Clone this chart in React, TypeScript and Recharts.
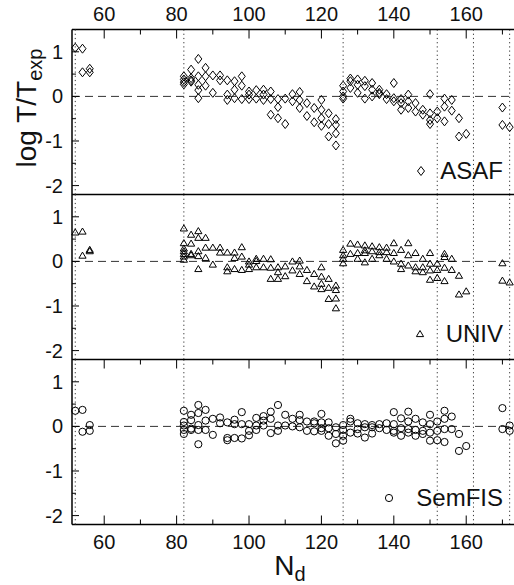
import React from "react";
import { ScatterChart, Scatter, XAxis, YAxis, ReferenceLine } from "recharts";

const FONT = "'Liberation Sans', Arial, sans-serif";

const X_DOMAIN: [number, number] = [51.1, 173.2];
const Y_DOMAIN: [number, number] = [-2.2, 1.5];
const X_TICKS = [60, 70, 80, 90, 100, 110, 120, 130, 140, 150, 160, 170];
const Y_TICKS = [-2, -1.5, -1, -0.5, 0, 0.5, 1];
// dotted verticals (shell closures)
const SHELL_LINES = [52, 82, 126, 152, 162, 172];

// [N_d, values of log T/Texp at that N]
type Group = [number, number[]];

const asaf: Group[] = [
  [52, [1.09]],
  [54, [1.07, 0.54]],
  [56, [0.62, 0.54]],
  [82, [0.45, 0.38, 0.32, 0.27]],
  [84, [0.6, 0.41, 0.36, 0.33]],
  [86, [0.84, 0.45, 0.26, 0.14, -0.04]],
  [88, [0.64, 0.45, 0.24]],
  [90, [0.47, 0.08]],
  [92, [0.47, 0.36]],
  [94, [0.36, 0.04, -0.08]],
  [96, [0.34, 0.15, -0.04]],
  [98, [0.45, 0.24, -0.06]],
  [100, [0.11, 0.04, -0.06]],
  [102, [0.14, -0.05]],
  [104, [0.15, 0.04, -0.08]],
  [106, [0.11, -0.06, -0.41]],
  [108, [-0.06, -0.24, -0.49]],
  [110, [-0.05, -0.62]],
  [112, [0.05, -0.11]],
  [114, [0.1, -0.08, -0.26]],
  [116, [-0.15, -0.44]],
  [118, [-0.26, -0.58]],
  [120, [-0.08, -0.3, -0.49, -0.66]],
  [122, [-0.38, -0.62, -0.9]],
  [124, [-0.51, -0.64, -0.83, -1.1]],
  [126, [0.24, 0.11, 0, -0.05]],
  [128, [0.4, 0.34, 0.19]],
  [130, [0.38, 0.26, 0.08]],
  [132, [0.35, 0.23, -0.05]],
  [134, [0.3, 0.15, 0]],
  [136, [0.15, 0.08, 0.05]],
  [138, [0.05, -0.06]],
  [140, [0.3, -0.04, -0.11]],
  [142, [-0.06, -0.15, -0.3]],
  [144, [0.04, -0.11, -0.26]],
  [146, [-0.15, -0.34]],
  [148, [-0.3, -0.41]],
  [150, [0.05, -0.38, -0.53, -0.62]],
  [152, [-0.34, -0.49]],
  [154, [-0.05, -0.23, -0.56]],
  [156, [-0.08, -0.32]],
  [158, [-0.49, -0.9]],
  [160, [-0.84]],
  [170, [-0.25, -0.64]],
  [172, [-0.69]],
];

const univ: Group[] = [
  [52, [0.65]],
  [54, [0.67, 0.13]],
  [56, [0.26, 0.23]],
  [82, [0.74, 0.41, 0.29, 0.23, 0.17, 0.11, 0.04]],
  [84, [0.6, 0.4, 0.17, 0.14]],
  [86, [0.68, 0.53, 0.23, 0.12, -0.17]],
  [88, [0.53, 0.31, 0.08]],
  [90, [0.31, -0.07]],
  [92, [0.31, 0.2]],
  [94, [0.2, -0.13, -0.22]],
  [96, [0.2, 0.08, -0.17]],
  [98, [0.32, 0.11, -0.19]],
  [100, [0, -0.07, -0.17]],
  [102, [0.06, 0.01, -0.13]],
  [104, [0.06, -0.13]],
  [106, [0.05, -0.14, -0.39]],
  [108, [-0.13, -0.24, -0.39]],
  [110, [-0.11, -0.33]],
  [112, [0, -0.2]],
  [114, [0.02, -0.11, -0.28]],
  [116, [-0.19, -0.44]],
  [118, [-0.28, -0.56]],
  [120, [-0.13, -0.34, -0.5, -0.62]],
  [122, [-0.39, -0.59, -0.84]],
  [124, [-0.54, -0.64, -0.83, -1.05]],
  [126, [0.26, 0.14, 0.06, -0.04]],
  [128, [0.4, 0.17]],
  [130, [0.38, 0.19, 0.06]],
  [132, [0.36, 0.25, 0.19, -0.02]],
  [134, [0.34, 0.23, 0.06]],
  [136, [0.32, 0.21, 0.14]],
  [138, [0.31, 0.21, 0.06]],
  [140, [0.41, 0.19, 0]],
  [142, [0.26, -0.05, -0.17]],
  [144, [0.41, 0.14, -0.09]],
  [146, [0.19, -0.13, -0.22]],
  [148, [0.06, -0.13, -0.24]],
  [150, [0.19, -0.05, -0.2, -0.41]],
  [152, [-0.05, -0.19, -0.37]],
  [154, [0.17, 0.1, -0.14, -0.44]],
  [156, [0.06, -0.19]],
  [158, [-0.32, -0.74]],
  [160, [-0.67]],
  [170, [-0.04, -0.43]],
  [172, [-0.47]],
];

const semfis: Group[] = [
  [52, [0.35]],
  [54, [0.37, -0.12]],
  [56, [0.03, -0.1]],
  [82, [0.35, 0.1, 0.02, -0.08, -0.17]],
  [84, [0.26, 0.14, -0.05, -0.08]],
  [86, [0.48, 0.3, 0.03, -0.08, -0.4]],
  [88, [0.37, 0.13, -0.08]],
  [90, [0.17, -0.19]],
  [92, [0.2, 0.07]],
  [94, [0.09, -0.26, -0.31]],
  [96, [0.15, 0.05, -0.26]],
  [98, [0.32, 0.05, -0.27]],
  [100, [0.05, -0.1, -0.2]],
  [102, [0.19, 0.02, -0.08]],
  [104, [0.23, 0.13, 0.02]],
  [106, [0.33, 0.17, -0.15]],
  [108, [0.48, 0.02, -0.1]],
  [110, [0.26, 0.02]],
  [112, [0.17, 0]],
  [114, [0.26, 0.14, -0.02]],
  [116, [0.11, -0.1]],
  [118, [0.11, 0.07, -0.11]],
  [120, [0.28, 0.09, -0.04, -0.1]],
  [122, [0.09, -0.04, -0.21]],
  [124, [-0.02, -0.17, -0.38]],
  [126, [0.03, -0.08, -0.21, -0.32]],
  [128, [0.17, 0.11, -0.14]],
  [130, [0.07, -0.06, -0.16]],
  [132, [0.05, -0.02, -0.25]],
  [134, [0.03, -0.02, -0.16]],
  [136, [0.05, -0.04]],
  [138, [0.07, -0.08]],
  [140, [0.32, 0.05, -0.1, -0.14]],
  [142, [0.18, -0.04, -0.21]],
  [144, [0.33, 0.11, -0.06, -0.14]],
  [146, [0.17, -0.08, -0.21]],
  [148, [0.09, -0.1, -0.17]],
  [150, [0.26, 0.05, -0.14, -0.32]],
  [152, [0.11, -0.1, -0.31]],
  [154, [0.35, 0.17, -0.06, -0.35]],
  [156, [0.22, -0.06]],
  [158, [-0.17, -0.55]],
  [160, [-0.44]],
  [170, [0.41, -0.06]],
  [172, [0.02, -0.1]],
];

const flatten = (groups: Group[]) =>
  groups.flatMap(([n, vals]) => vals.map((v) => ({ n, v })));

const AXIS_X = 72;
const PANEL_TOPS = [29.5, 194.5, 359.5];
const PANEL_H = 165;
const PX_X = (514 - AXIS_X) / (X_DOMAIN[1] - X_DOMAIN[0]);
const PX_Y = PANEL_H / (Y_DOMAIN[1] - Y_DOMAIN[0]);
const px = (n: number) => AXIS_X + (n - X_DOMAIN[0]) * PX_X;
const py = (top: number, v: number) => top + (Y_DOMAIN[1] - v) * PX_Y;

const Diamond = ({ cx, cy }: any) => (
  <polygon
    points={`${cx},${cy - 4.5} ${cx + 3.5},${cy} ${cx},${cy + 4.5} ${cx - 3.5},${cy}`}
    fill="none"
    stroke="#000"
    strokeWidth={1}
  />
);
const Triangle = ({ cx, cy }: any) => (
  <polygon
    points={`${cx},${cy - 3.5} ${cx + 3.6},${cy + 2.6} ${cx - 3.6},${cy + 2.6}`}
    fill="none"
    stroke="#000"
    strokeWidth={1}
  />
);
const Circle = ({ cx, cy }: any) => (
  <circle cx={cx} cy={cy} r={3.6} fill="none" stroke="#000" strokeWidth={1} />
);

const yTickLabel = (props: any) => {
  const { y, payload } = props;
  if (!Number.isInteger(payload.value)) return <g />;
  return (
    <text x={AXIS_X - 9} y={y + 7} textAnchor="end" fontSize={20} fill="#111" fontFamily={FONT}>
      {payload.value}
    </text>
  );
};

const xTickLabel = (labelY: number) => (props: any) => {
  const { x, payload } = props;
  if (payload.value % 20 !== 0) return <g />;
  return (
    <text x={x} y={labelY} textAnchor="middle" fontSize={20} fill="#111" fontFamily={FONT}>
      {payload.value}
    </text>
  );
};

// frame, inward tick marks and the left-most dotted line, as one overlay
const Frame = () => {
  const right = 514;
  const bottom = PANEL_TOPS[2] + PANEL_H;
  const items: React.ReactNode[] = [];
  items.push(<line key="l" x1={AXIS_X} x2={AXIS_X} y1={PANEL_TOPS[0]} y2={bottom} stroke="#000" strokeWidth={1.5} />);
  [...PANEL_TOPS, bottom].forEach((y, i) =>
    items.push(<line key={`h${i}`} x1={AXIS_X} x2={right} y1={y} y2={y} stroke="#000" strokeWidth={1.5} />)
  );
  PANEL_TOPS.forEach((top, p) => {
    Y_TICKS.forEach((t) => {
      const y = py(top, t);
      items.push(
        <line key={`y${p}${t}`} x1={AXIS_X} x2={AXIS_X + (Number.isInteger(t) ? 7 : 4)} y1={y} y2={y} stroke="#000" />
      );
    });
    const x52 = px(SHELL_LINES[0]);
    items.push(
      <line key={`d${p}`} x1={x52} x2={x52} y1={top} y2={top + PANEL_H} stroke="#333" strokeDasharray="1.2 3" />
    );
  });
  X_TICKS.forEach((t) => {
    const x = px(t);
    const len = t % 20 === 0 ? 9 : 5;
    items.push(<line key={`t0${t}`} x1={x} x2={x} y1={PANEL_TOPS[0]} y2={PANEL_TOPS[0] + len} stroke="#000" />);
    items.push(<line key={`t2${t}`} x1={x} x2={x} y1={PANEL_TOPS[2]} y2={PANEL_TOPS[2] + len} stroke="#000" />);
    items.push(<line key={`b${t}`} x1={x} x2={x} y1={bottom} y2={bottom - len} stroke="#000" />);
  });
  return (
    <svg width={514} height={585} style={{ position: "absolute", left: 0, top: 0, pointerEvents: "none" }}>
      {items}
    </svg>
  );
};

// key boxes drawn over each panel (top = page y of the row, right edge at 503)
const KEYS = [
  { name: "ASAF", Shape: Diamond, gap: 14, top: 158 },
  { name: "UNIV", Shape: Triangle, gap: 21, top: 321 },
  { name: "SemFIS", Shape: Circle, gap: 22, top: 485 },
];

const KeyBox = ({ name, gap, Shape, top }: any) => (
  <div
    style={{
      position: "absolute",
      top,
      right: 11,
      display: "flex",
      alignItems: "center",
      fontFamily: FONT,
      fontSize: 24,
      lineHeight: "26px",
      color: "#111",
    }}
  >
    <svg width={10} height={12}>
      <Shape cx={5} cy={6} />
    </svg>
    <span style={{ marginLeft: gap }}>{name}</span>
  </div>
);

const commonLines = () => [
  ...SHELL_LINES.slice(1).map((x) => (
    <ReferenceLine key={`s${x}`} x={x} stroke="#333" strokeDasharray="1.2 3" strokeWidth={1} />
  )),
  <ReferenceLine key="zero" y={0} stroke="#333" strokeDasharray="8 5" strokeWidth={1} />,
];

const yAxis = (label?: any) => (
  <YAxis
    dataKey="v"
    type="number"
    domain={Y_DOMAIN}
    ticks={Y_TICKS}
    interval={0}
    width={AXIS_X}
    tickLine={false}
    axisLine={false}
    tick={yTickLabel}
    label={label}
  />
);

export default function App() {
  return (
    <div style={{ position: "absolute", left: 0, top: 0, width: 514, height: 585, background: "#fff" }}>
      {/* ASAF */}
      <div style={{ position: "absolute", left: 0, top: 0 }}>
        <ScatterChart width={514} height={200} margin={{ top: 0, right: 0, bottom: 5.5, left: 0 }}>
          <XAxis
            dataKey="n"
            type="number"
            orientation="top"
            height={29.5}
            domain={X_DOMAIN}
            ticks={X_TICKS}
            interval={0}
            tickLine={false}
            axisLine={false}
            tick={xTickLabel(21)}
          />
          {yAxis({
            content: () => (
              <text
                x={0}
                y={0}
                transform="translate(36,108) rotate(-90)"
                textAnchor="middle"
                fontSize={28}
                fill="#111"
                fontFamily={FONT}
              >
                log T/T
                <tspan fontSize={20} dy={6}>exp</tspan>
              </text>
            ),
          })}
          {commonLines()}
          <Scatter name="ASAF" data={flatten(asaf)} shape={Diamond} isAnimationActive={false} />
        </ScatterChart>
      </div>

      {/* UNIV */}
      <div style={{ position: "absolute", left: 0, top: 190 }}>
        <ScatterChart width={514} height={174} margin={{ top: 4.5, right: 0, bottom: 4.5, left: 0 }}>
          <XAxis dataKey="n" type="number" domain={X_DOMAIN} hide />
          {yAxis()}
          {commonLines()}
          <Scatter name="UNIV" data={flatten(univ)} shape={Triangle} isAnimationActive={false} />
        </ScatterChart>
      </div>

      {/* SemFIS */}
      <div style={{ position: "absolute", left: 0, top: 355 }}>
        <ScatterChart width={514} height={230} margin={{ top: 4.5, right: 0, bottom: 0, left: 0 }}>
          <XAxis
            dataKey="n"
            type="number"
            orientation="bottom"
            height={60.5}
            domain={X_DOMAIN}
            ticks={X_TICKS}
            interval={0}
            tickLine={false}
            axisLine={false}
            tick={xTickLabel(194)}
            label={{
              content: () => (
                <text x={290} y={220} textAnchor="middle" fontSize={28} fill="#111" fontFamily={FONT}>
                  N<tspan fontSize={20} dy={6}>d</tspan>
                </text>
              ),
            }}
          />
          {yAxis()}
          {commonLines()}
          <Scatter name="SemFIS" data={flatten(semfis)} shape={Circle} isAnimationActive={false} />
        </ScatterChart>
      </div>

      <Frame />

      {KEYS.map((k) => (
        <KeyBox key={k.name} {...k} />
      ))}
    </div>
  );
}
